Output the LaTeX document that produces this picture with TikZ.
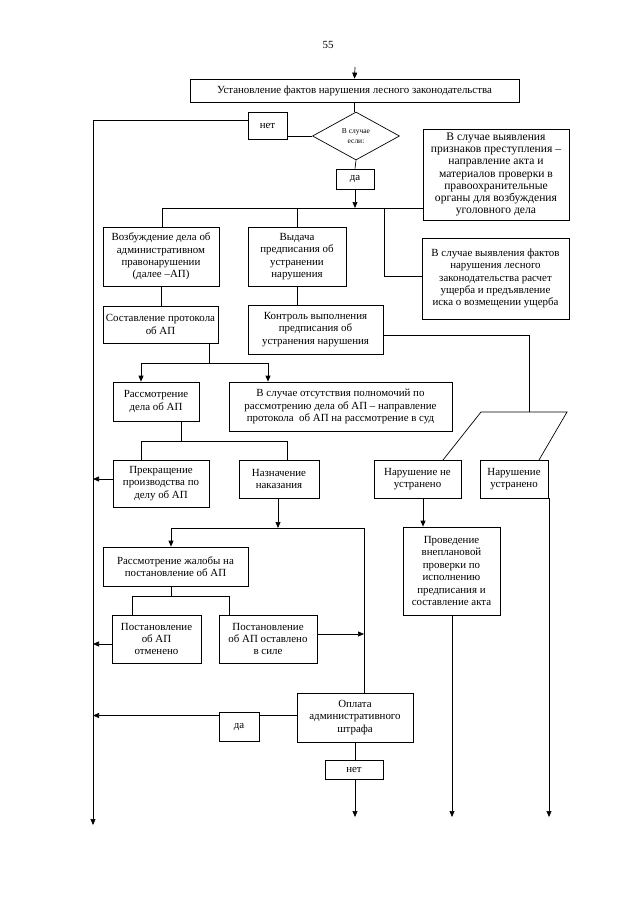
\documentclass[tikz,border=0pt]{standalone}
\usepackage{fontspec}
\setmainfont{Liberation Serif}
\usetikzlibrary{arrows.meta,shapes.geometric}
\tikzset{
  box/.style={draw, align=center, inner sep=0.5pt, line width=0.7pt, font=\fontsize{10.9}{12.4}\selectfont},
  ln/.style={line width=0.7pt},
  arr/.style={line width=0.7pt, -{Triangle[length=6pt,width=5pt]}},
}
\begin{document}
\begin{tikzpicture}[x=1pt,y=-1pt]
\useasboundingbox (0,0) rectangle (640,905);
\node[font=\fontsize{10.9}{12}\selectfont] (pg) at (328,45) {55};

% nodes
\node[box,minimum width=329pt,minimum height=23pt] (top) at (354.5,90.5) {Установление фактов нарушения лесного законодательства};
\node[draw,shape=diamond,aspect=1.81,minimum width=87pt,minimum height=48pt,inner sep=0pt,line width=0.7pt,align=center,font=\fontsize{7.5}{10.5}\selectfont] (dia) at (356,136) {В случае\\ если:};
\node[box,minimum width=39pt,minimum height=27pt] (net1) at (267.5,125.5) {нет};
\node[box,minimum width=38pt,minimum height=20pt] (da1) at (355,179) {да};
\node[box,minimum width=146pt,minimum height=91pt,font=\fontsize{11.6}{12.2}\selectfont] (crime) at (496,174.5) {В случае выявления\\ признаков преступления –\\ направление акта и\\ материалов проверки в\\ правоохранительные\\ органы для возбуждения\\ уголовного дела};
\node[box,minimum width=116pt,minimum height=59pt] (vozb) at (161,256.5) {Возбуждение дела об\\ административном\\ правонарушении\\ (далее –АП)};
\node[box,minimum width=98pt,minimum height=59pt] (vyd) at (297,256.5) {Выдача\\ предписания об\\ устранении\\ нарушения};
\node[box,minimum width=147pt,minimum height=81pt] (damage) at (495.5,278.5) {В случае выявления фактов\\ нарушения лесного\\ законодательства расчет\\ ущерба и предъявление\\ иска о возмещении ущерба};
\node[box,minimum width=115pt,minimum height=37pt] (sost) at (160.5,324.5) {Составление протокола\\ об АП};
\node[box,minimum width=135pt,minimum height=49pt] (kontr) at (315.5,329.5) {Контроль выполнения\\ предписания об\\ устранения нарушения};
\node[box,minimum width=86pt,minimum height=39pt] (rassm) at (156,401.5) {Рассмотрение\\ дела об АП};
\node[box,minimum width=223pt,minimum height=49pt] (court) at (340.5,406.5) {В случае отсутствия полномочий по\\ рассмотрению дела об АП – направление\\ протокола\ \ об АП на рассмотрение в суд};
\node[box,minimum width=96pt,minimum height=47pt] (prekr) at (161,483.5) {Прекращение\\ производства по\\ делу об АП};
\node[box,minimum width=80pt,minimum height=38pt] (nazn) at (279,479) {Назначение\\ наказания};
\node[box,minimum width=87pt,minimum height=38pt] (neustr) at (417.5,479) {Нарушение не\\ устранено};
\node[box,minimum width=68pt,minimum height=38pt] (ustr) at (514,479) {Нарушение\\ устранено};
\node[box,minimum width=97pt,minimum height=88pt] (provd) at (451.5,571) {Проведение\\ внеплановой\\ проверки по\\ исполнению\\ предписания и\\ составление акта};
\node[box,minimum width=145pt,minimum height=39pt] (zhal) at (175.5,566.5) {Рассмотрение жалобы на\\ постановление об АП};
\node[box,minimum width=89pt,minimum height=48pt] (otm) at (156.5,639) {Постановление\\ об АП\\ отменено};
\node[box,minimum width=98pt,minimum height=48pt] (ost) at (268,639) {Постановление\\ об АП оставлено\\ в силе};
\node[box,minimum width=116pt,minimum height=49pt] (opl) at (355,717.5) {Оплата\\ административного\\ штрафа};
\node[box,minimum width=40pt,minimum height=29pt] (da2) at (239,726.5) {да};
\node[box,minimum width=58pt,minimum height=19pt] (net2) at (354,769.5) {нет};

% coordinates
\coordinate (start) at (355,67);
\coordinate (Ltop) at (93,120);
\coordinate (Lbot) at (93,825);
\coordinate (j1) at (355,208);
\coordinate (h1a) at (162,208);
\coordinate (h1b) at (297,208);
\coordinate (h1c) at (384,208);
\coordinate (h1d) at (384,276);
\coordinate (k1) at (529,335);
\coordinate (k2) at (529,412);
\coordinate (pl) at (481,412);
\coordinate (pr) at (567,412);
\coordinate (plb) at (443,460);
\coordinate (prb) at (539,460);
\coordinate (s1) at (209,363);
\coordinate (s2) at (141,363);
\coordinate (s3) at (268,363);
\coordinate (r1) at (181,441);
\coordinate (r2) at (141,441);
\coordinate (r3) at (287,441);
\coordinate (n1) at (278,528);
\coordinate (n2) at (171,528);
\coordinate (n3) at (364,528);
\coordinate (z1) at (171,596);
\coordinate (z2) at (132,596);
\coordinate (z3) at (229,596);
\coordinate (u1) at (423,498);
\coordinate (e1) at (452,817);
\coordinate (e2) at (549,817);
\coordinate (e3) at (355,817);
\coordinate (netw) at ([yshift=5pt]net1.west);
\coordinate (prw) at ([yshift=4.5pt]prekr.west);
\coordinate (oste) at ([yshift=5pt]ost.east);
\coordinate (otmw) at ([yshift=-5pt]otm.west);
\coordinate (oplw) at ([yshift=2pt]opl.west);

% connectors
\draw[arr] (start) -- (top.north);
\draw[ln] (top.south) -- (top.south |- dia.north);
\draw[ln] (dia.west) -- (dia.west -| net1.east);
\draw[arr] (netw) -- (Ltop |- netw) -- (Lbot);
\draw[ln] (dia.south) -- (da1.north);
\draw[arr] (da1.south) -- (j1);
\draw[ln] (h1a) -- (h1a -| crime.west);
\draw[ln] (h1a) -- (h1a |- vozb.north);
\draw[ln] (h1b) -- (h1b |- vyd.north);
\draw[ln] (h1c) -- (h1d) -- (h1d -| damage.west);
\draw[ln] (vozb.south) -- (vozb.south |- sost.north);
\draw[ln] (vyd.south) -- (vyd.south |- kontr.north);
\draw[ln] (kontr.east |- k1) -- (k1) -- (k2);
\draw[ln] (plb) -- (pl) -- (pr) -- (prb);
\draw[ln] (s1 |- sost.south) -- (s1);
\draw[ln] (s2) -- (s3);
\draw[arr] (s2) -- (s2 |- rassm.north);
\draw[arr] (s3) -- (s3 |- court.north);
\draw[ln] (r1 |- rassm.south) -- (r1);
\draw[ln] (r2) -- (r3);
\draw[ln] (r2) -- (r2 |- prekr.north);
\draw[ln] (r3) -- (r3 |- nazn.north);
\draw[arr] (prw) -- (Ltop |- prw);
\draw[arr] (n1 |- nazn.south) -- (n1);
\draw[ln] (n2) -- (n3);
\draw[arr] (n2) -- (n2 |- zhal.north);
\draw[ln] (n3) -- (n3 |- opl.north);
\draw[arr] (u1) -- (u1 |- provd.north);
\draw[arr] (provd.south -| e1) -- (e1);
\draw[arr] (ustr.south -| e2) -- (e2);
\draw[ln] (z1 |- zhal.south) -- (z1);
\draw[ln] (z2) -- (z3);
\draw[ln] (z2) -- (z2 |- otm.north);
\draw[ln] (z3) -- (z3 |- ost.north);
\draw[arr] (oste) -- (n3 |- oste);
\draw[arr] (otmw) -- (Ltop |- otmw);
\draw[ln] (oplw) -- (da2.east |- oplw);
\draw[arr] (da2.west |- oplw) -- (Ltop |- oplw);
\draw[ln] (opl.south -| e3) -- (e3 |- net2.north);
\draw[arr] (net2.south -| e3) -- (e3);
\end{tikzpicture}
\end{document}
